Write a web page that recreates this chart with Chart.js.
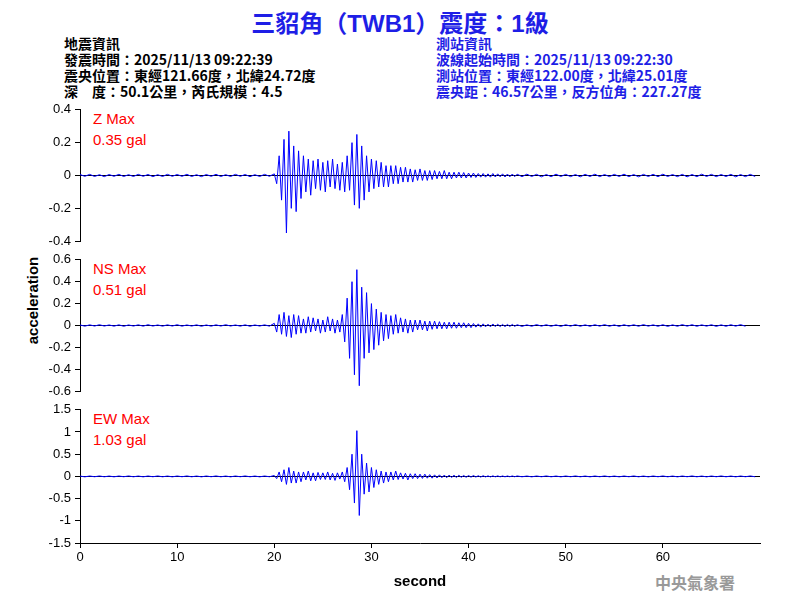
<!DOCTYPE html>
<html><head><meta charset="utf-8">
<script src="https://cdn.jsdelivr.net/npm/chart.js@4"></script>
<style>
body{margin:0;width:800px;height:600px;background:#fff;position:relative;overflow:hidden;font-family:"Liberation Sans",Arial,sans-serif}
canvas{position:absolute;left:0}
.t{position:absolute;white-space:nowrap}
.info{font-family:"Noto Sans CJK TC","Liberation Sans",sans-serif;font-weight:bold;font-size:14px;line-height:16px}
.red{color:#f00;font-size:15px;line-height:21px;font-family:"Liberation Sans",Arial,sans-serif}
</style></head><body>
<div class="t" style="left:0;width:800px;text-align:center;top:4px;font-size:24px;font-weight:bold;color:#1e1ee6;font-family:'Liberation Sans','Noto Sans CJK TC',sans-serif">三貂角（TWB1）震度：1級</div>
<div class="t info" style="left:64px;top:35px;color:#000">地震資訊<br>發震時間：2025/11/13 09:22:39<br>震央位置：東經121.66度，北緯24.72度<br>深　度：50.1公里，芮氏規模：4.5</div>
<div class="t info" style="left:436px;top:35px;color:#1e1ee6">測站資訊<br>波線起始時間：2025/11/13 09:22:30<br>測站位置：東經122.00度，北緯25.01度<br>震央距：46.57公里，反方位角：227.27度</div>
<div class="t red" style="left:93px;top:108px">Z Max<br>0.35 gal</div>
<div class="t red" style="left:93px;top:258px">NS Max<br>0.51 gal</div>
<div class="t red" style="left:93px;top:408px">EW Max<br>1.03 gal</div>
<div class="t" style="left:-18px;top:292px;width:100px;text-align:center;transform:rotate(-90deg);font-size:15px;font-weight:bold">acceleration</div>
<div class="t" style="left:655px;top:570px;font-size:16px;font-weight:bold;color:#999;font-family:'Noto Sans CJK TC',serif">中央氣象署</div>
<canvas id="c1" width="800" height="155" style="top:98px"></canvas>
<canvas id="c2" width="800" height="155" style="top:248px"></canvas>
<canvas id="c3" width="800" height="202" style="top:398px"></canvas>
<script>
const zPre=[0.006,-0.005,0.007,-0.006,0.005,-0.007,0.006,-0.005,0.007,-0.006,0.005,-0.006,0.007,-0.005,0.006,-0.007,0.005,-0.006,0.007,-0.005,0.006,-0.005,0.007,-0.006,0.005,-0.007,0.006,-0.005,0.007,-0.006,0.005,-0.006,0.007,-0.005,0.006,-0.007,0.005,-0.006,0.007,-0.005];
const zQ=[0.01,-0.05,0.12,-0.15,0.22,-0.35,0.27,-0.2,0.18,-0.22,0.15,-0.14,
0.12,-0.1,0.1,-0.12,0.09,-0.08,0.1,-0.09,0.08,-0.1,0.09,-0.07,0.1,-0.08,0.07,-0.09,0.08,-0.1,0.12,-0.09,
0.2,-0.18,0.25,-0.2,0.18,-0.15,0.12,-0.1,0.1,-0.08,0.09,-0.07,0.08,-0.07,0.06,-0.07,0.06,-0.05,0.06,-0.05,
0.05,-0.04,0.05,-0.04,0.04,-0.04,0.035,-0.03,0.04,-0.03,0.03,-0.03,0.03,-0.025,0.03,-0.02,0.025,-0.02,0.03,-0.02,
0.02,-0.02,0.02,-0.015,0.02,-0.015,0.018,-0.015,0.015,-0.012,0.015,-0.012,0.012,-0.01,0.012,-0.01,
0.01,-0.01,0.012,-0.009,0.01,-0.008,0.01,-0.009,0.009,-0.008,0.009,-0.007];
const zPost=[0.008,-0.007,0.008,-0.006,0.007,-0.008,0.006,-0.007,0.008,-0.006,0.007,-0.007,0.006,-0.008,0.007,-0.006,0.008,-0.007,0.006,-0.007,0.007,-0.006,0.008,-0.007,0.006,-0.008,0.007,-0.006,0.007,-0.007,0.008,-0.006,0.006,-0.007,0.007,-0.008,0.006,-0.007,0.008,-0.006,0.007,-0.007,0.006,-0.006,0.007,-0.008,0.006,-0.007,0.007,-0.006];
const nsPre=[0.005,-0.006,0.006,-0.005,0.007,-0.005,0.005,-0.006,0.006,-0.007,0.005,-0.005,0.006,-0.006,0.007,-0.005,0.005,-0.006,0.006,-0.005,0.007,-0.006,0.005,-0.005,0.006,-0.007,0.005,-0.006,0.006,-0.005,0.007,-0.005,0.005,-0.006,0.006,-0.007,0.005,-0.005,0.006,-0.006];
const nsQ=[0.02,-0.06,0.1,-0.08,0.12,-0.1,0.09,-0.11,0.1,-0.08,0.09,-0.07,0.06,-0.07,0.08,-0.06,0.07,-0.05,0.06,-0.07,
0.05,-0.06,0.08,-0.05,0.06,-0.07,0.05,-0.06,0.1,-0.15,0.25,-0.3,0.4,-0.45,0.51,-0.55,0.35,-0.3,0.3,-0.25,
0.2,-0.22,0.15,-0.18,0.12,-0.14,0.1,-0.12,0.09,-0.08,0.1,-0.07,0.07,-0.06,0.06,-0.07,0.05,-0.06,0.05,-0.04,
0.05,-0.04,0.04,-0.05,0.04,-0.035,0.04,-0.03,0.035,-0.03,0.03,-0.03,0.03,-0.025,0.03,-0.025,0.025,-0.02,0.025,-0.02,
0.02,-0.02,0.018,-0.015,0.015,-0.015,0.015,-0.012,0.012,-0.012,0.014,-0.01,0.012,-0.01,0.01,-0.01,0.01,-0.009,0.01,-0.008];
const nsPost=[0.007,-0.008,0.006,-0.007,0.008,-0.006,0.007,-0.007,0.006,-0.008,0.007,-0.006,0.008,-0.007,0.006,-0.007,0.007,-0.006,0.008,-0.007,0.006,-0.008,0.007,-0.006,0.007,-0.007,0.008,-0.006,0.006,-0.007,0.007,-0.008,0.006,-0.007,0.008,-0.006,0.007,-0.007,0.006,-0.006,0.007,-0.008,0.006,-0.007,0.007,-0.006,0.008,-0.007];
const ewPre=[0.008,-0.01,0.009,-0.008,0.01,-0.009,0.008,-0.01,0.009,-0.008,0.01,-0.009,0.008,-0.01,0.009,-0.008,0.01,-0.009,0.008,-0.01,0.009,-0.008,0.01,-0.009,0.008,-0.01,0.009,-0.008,0.01,-0.009,0.008,-0.01,0.009,-0.008,0.01,-0.009,0.008,-0.01,0.009,-0.008];
const ewQ=[0.02,-0.05,0.1,-0.12,0.15,-0.18,0.2,-0.15,0.12,-0.15,0.1,-0.12,0.1,-0.08,0.12,-0.1,0.08,-0.1,0.09,-0.07,
0.08,-0.07,0.1,-0.08,0.07,-0.09,0.08,-0.06,0.1,-0.12,0.2,-0.3,0.5,-0.6,1.03,-0.88,0.5,-0.4,0.3,-0.35,
0.2,-0.25,0.15,-0.18,0.12,-0.15,0.1,-0.12,0.1,-0.08,0.12,-0.07,0.08,-0.06,0.07,-0.08,0.06,-0.05,0.06,-0.05,
0.05,-0.045,0.05,-0.04,0.04,-0.04,0.035,-0.035,0.035,-0.03,0.03,-0.03,0.03,-0.025,0.025,-0.025,0.025,-0.02,0.02,-0.02,
0.02,-0.018,0.02,-0.015,0.015,-0.015,0.015,-0.012,0.012,-0.012,0.012,-0.01,0.012,-0.01,0.01,-0.01,0.01,-0.008,0.01,-0.008];
const ewPost=[0.01,-0.009,0.008,-0.01,0.009,-0.008,0.01,-0.009,0.008,-0.01,0.009,-0.008,0.01,-0.009,0.008,-0.01,0.009,-0.008,0.01,-0.009,0.008,-0.01,0.009,-0.008,0.01,-0.009,0.008,-0.01,0.009,-0.008,0.01,-0.009,0.008,-0.01,0.009,-0.008,0.01,-0.009,0.008,-0.01,0.009,-0.008,0.01,-0.009,0.008,-0.01,0.009,-0.008,0.01,-0.009];
const xTicks=[0,10,20,30,40,50,60];

const times=[];
for(let i=0;i<40;i++)times.push(i*0.5);
for(let i=0;i<100;i++)times.push(20+i*0.25);
for(let i=0;i<50;i++)times.push(45+i*0.5);
function pts(a,b,c){const v=a.concat(b,c);return v.map((y,i)=>({x:times[i],y}));}
const F={family:'"Liberation Sans",Arial,sans-serif',size:13};
function mk(id,vals,lim,step,showX){
  const xs={type:'linear',min:0,max:70,display:showX,
          afterBuildTicks:s=>{s.ticks=xTicks.map(v=>({value:v}));},
          grid:{display:true,drawOnChartArea:false,tickColor:'#000',tickLength:5},
          border:{color:'#000'},
          ticks:{color:'#000',font:F,padding:2,maxRotation:0,autoSkip:false},
          title:{display:true,text:'second',color:'#000',font:{family:F.family,size:15,weight:'bold'},padding:{top:3}}};
  if(showX) xs.afterFit=s=>{s.height=52;};
  new Chart(document.getElementById(id),{type:'line',
    data:{datasets:[{data:vals,borderColor:'#0000ff',borderWidth:1,pointRadius:0,tension:0}]},
    options:{responsive:false,animation:false,events:[],
      layout:{padding:{left:0,right:40,top:10,bottom:showX?5:10}},
      plugins:{legend:{display:false},tooltip:{enabled:false}},
      scales:{
        x:xs,
        y:{min:-lim,max:lim,afterFit:s=>{s.width=80;},
          afterBuildTicks:s=>{const t=[];for(let v=-lim;v<=lim+1e-9;v+=step)t.push({value:Math.round(v*100)/100});s.ticks=t;},
          ticks:{color:'#000',font:F,padding:4,autoSkip:false,callback:v=>String(Math.round(v*100)/100)},
          grid:{color:c=>c.tick&&c.tick.value===0?'#000':'rgba(0,0,0,0)',tickColor:'#000',tickLength:5},
          border:{color:'#000'}}}}});
}
mk('c1',pts(zPre,zQ,zPost),0.4,0.2,false);
mk('c2',pts(nsPre,nsQ,nsPost),0.6,0.2,false);
mk('c3',pts(ewPre,ewQ,ewPost),1.5,0.5,true);
</script></body></html>
